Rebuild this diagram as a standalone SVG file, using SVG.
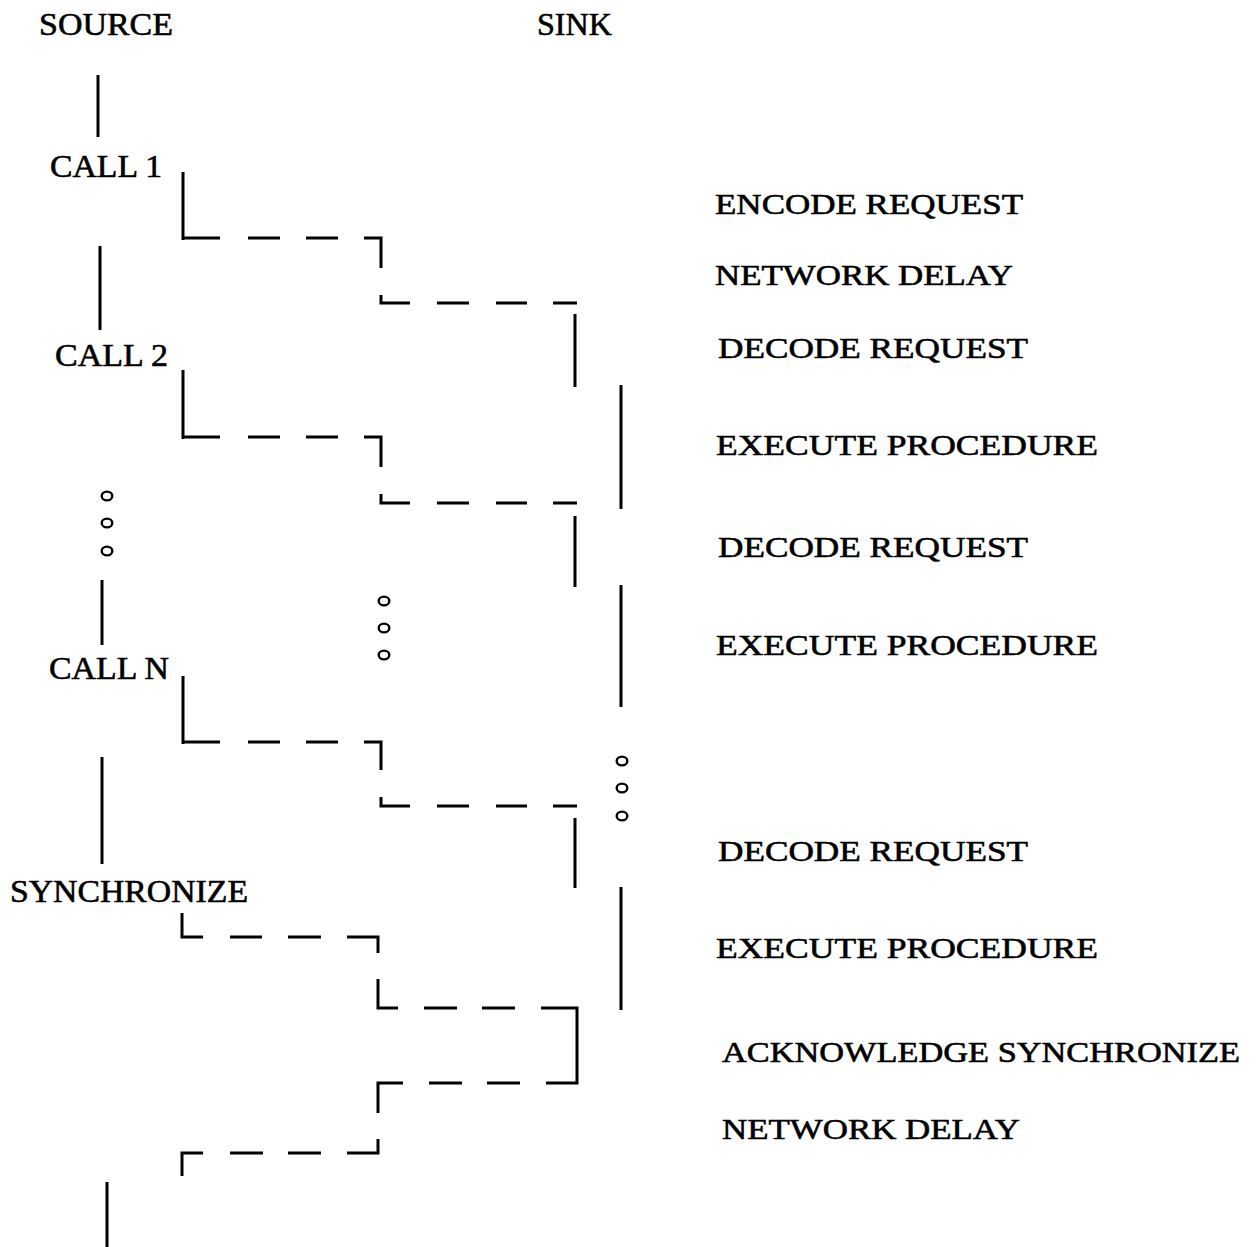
<svg xmlns="http://www.w3.org/2000/svg" width="1256" height="1247" viewBox="0 0 1256 1247">
  <style>
    .lbl { font-family: "Liberation Serif", "Times New Roman", serif; font-size: 30px; fill: #000; stroke: #000; stroke-width: 0.6; }
    .big { font-size: 32.5px; }
    .ln { stroke: #000; stroke-width: 3; fill: none; stroke-linecap: butt; stroke-linejoin: miter; }
    .dot { stroke: #000; stroke-width: 2.4; fill: none; }
  </style>
  <rect width="1256" height="1247" fill="#fff"/>

  <!-- column headings -->
  <g id="source"><text class="lbl big" x="39" y="35" textLength="134" lengthAdjust="spacingAndGlyphs">SOURCE</text></g>
  <g id="sink"><text class="lbl big" x="537" y="35" textLength="75" lengthAdjust="spacingAndGlyphs">SINK</text></g>

  <!-- source-side events -->
  <g id="call1"><text class="lbl big" x="50" y="177" textLength="112" lengthAdjust="spacingAndGlyphs">CALL 1</text></g>
  <g id="call2"><text class="lbl big" x="55" y="366" textLength="113" lengthAdjust="spacingAndGlyphs">CALL 2</text></g>
  <g id="callN"><text class="lbl big" x="49" y="679" textLength="120" lengthAdjust="spacingAndGlyphs">CALL N</text></g>
  <g id="synchronize"><text class="lbl big" x="10" y="902" textLength="238" lengthAdjust="spacingAndGlyphs">SYNCHRONIZE</text></g>

  <!-- phase labels -->
  <g id="encode-request"><text class="lbl" x="715" y="214" textLength="308" lengthAdjust="spacingAndGlyphs">ENCODE REQUEST</text></g>
  <g id="network-delay-1"><text class="lbl" x="715" y="285" textLength="298" lengthAdjust="spacingAndGlyphs">NETWORK DELAY</text></g>
  <g id="decode-request-1"><text class="lbl" x="718" y="358" textLength="310" lengthAdjust="spacingAndGlyphs">DECODE REQUEST</text></g>
  <g id="execute-procedure-1"><text class="lbl" x="716" y="455" textLength="382" lengthAdjust="spacingAndGlyphs">EXECUTE PROCEDURE</text></g>
  <g id="decode-request-2"><text class="lbl" x="718" y="557" textLength="310" lengthAdjust="spacingAndGlyphs">DECODE REQUEST</text></g>
  <g id="execute-procedure-2"><text class="lbl" x="716" y="655" textLength="382" lengthAdjust="spacingAndGlyphs">EXECUTE PROCEDURE</text></g>
  <g id="decode-request-3"><text class="lbl" x="718" y="861" textLength="310" lengthAdjust="spacingAndGlyphs">DECODE REQUEST</text></g>
  <g id="execute-procedure-3"><text class="lbl" x="716" y="958" textLength="382" lengthAdjust="spacingAndGlyphs">EXECUTE PROCEDURE</text></g>
  <g id="acknowledge-synchronize"><text class="lbl" x="722" y="1062" textLength="518" lengthAdjust="spacingAndGlyphs">ACKNOWLEDGE SYNCHRONIZE</text></g>
  <g id="network-delay-2"><text class="lbl" x="722" y="1139" textLength="298" lengthAdjust="spacingAndGlyphs">NETWORK DELAY</text></g>

  <!-- ellipsis markers -->
  <g id="more-calls">
    <ellipse class="dot" cx="107" cy="496" rx="5.3" ry="4.4"/>
    <ellipse class="dot" cx="107" cy="523" rx="5.3" ry="4.4"/>
    <ellipse class="dot" cx="107" cy="551" rx="5.3" ry="4.4"/>
  </g>
  <g id="more-transfers">
    <ellipse class="dot" cx="384" cy="601" rx="5.3" ry="4.4"/>
    <ellipse class="dot" cx="384" cy="628" rx="5.3" ry="4.4"/>
    <ellipse class="dot" cx="384" cy="655" rx="5.3" ry="4.4"/>
  </g>
  <g id="more-executions">
    <ellipse class="dot" cx="622" cy="761" rx="5.3" ry="4.4"/>
    <ellipse class="dot" cx="622" cy="788" rx="5.3" ry="4.4"/>
    <ellipse class="dot" cx="622" cy="816" rx="5.3" ry="4.4"/>
  </g>

  <g id="connectors">
    <!-- source timeline -->
    <path class="ln" d="M98,75 V137 M100,246 V330 M102,580 V645 M102,757 V864 M107,1182 V1247"/>

    <!-- sink activity: decode phases -->
    <path class="ln" d="M575,314 V387 M575,516 V587 M575,818 V888"/>
    <!-- sink activity: execute phases -->
    <path class="ln" d="M621,385 V509 M621,585 V707 M621,887 V1010"/>

    <!-- CALL 1 request -->
    <path class="ln" d="M183,172 V240 M183,238 H220 M248,238 H280 M306,238 H338 M364,238 H381 V268 M381,295 V303 H410 M437,303 H469 M496,303 H527 M553,303 H577"/>
    <!-- CALL 2 request -->
    <path class="ln" d="M183,370 V439 M183,437 H220 M248,437 H280 M306,437 H338 M364,437 H381 V467 M381,494 V503 H410 M437,503 H469 M496,503 H527 M553,503 H577"/>
    <!-- CALL N request -->
    <path class="ln" d="M183,676 V744 M183,742 H220 M248,742 H280 M306,742 H338 M364,742 H381 V770 M381,797 V806 H410 M437,806 H469 M496,806 H527 M553,806 H577"/>
    <!-- synchronize request and acknowledgement -->
    <path class="ln" d="M182,913 V937 H203 M230,937 H262 M288,937 H321 M347,937 H378 V953 M378,979 V1008 H398 M424,1008 H457 M482,1008 H515 M541,1008 H577 V1083 H546 M520,1083 H487 M462,1083 H429 M403,1083 H378 V1113 M378,1139 V1153 H347 M321,1153 H288 M263,1153 H230 M203,1153 H182 V1176"/>
  </g>
</svg>
